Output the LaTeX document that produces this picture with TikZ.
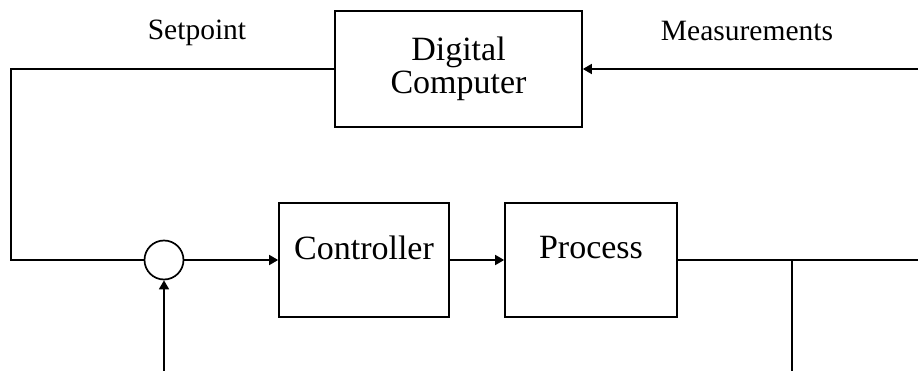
\documentclass[tikz,border=0pt]{standalone}
\usepackage{fontspec}
\setmainfont{Liberation Serif}
\usetikzlibrary{arrows.meta}
\begin{document}
\begin{tikzpicture}[x=1pt,y=-1pt,
  line width=1.7pt,
  blockbox/.style={draw,line width=1.7pt,inner sep=0pt,font=\fontsize{34}{33}\selectfont,align=center},
  sig/.style={font=\fontsize{29.5}{30}\selectfont,anchor=base,inner sep=0pt},
  arr/.style={-{Triangle[length=9pt,width=10pt]}}]
\useasboundingbox (0,0) rectangle (918,371);
\fill[white] (0,0) rectangle (918,371);
\node[blockbox,minimum width=247pt,minimum height=116pt] (dc) at (458.5,69) {Digital\\Computer};
\node[blockbox,minimum width=170pt,minimum height=114pt,text height=24pt,text depth=24pt] (ctrl) at (364,260) {Controller};
\node[blockbox,minimum width=172pt,minimum height=114pt,text height=23pt,text depth=25pt] (proc) at (591,260) {Process};
\node[draw,circle,minimum size=39pt,inner sep=0pt,line width=1.7pt] (sum) at (164,260) {};
\node[sig] (sp) at (197,40) {Setpoint};
\node[sig] (ms) at (747,41) {Measurements};
\coordinate (tl) at (11,69);
\coordinate (bl) at (11,260);
\coordinate (mr) at (918,69);
\coordinate (orr) at (918,260);
\coordinate (br) at (792,260);
\coordinate (brb) at (792,371);
\coordinate (fb) at (164,371);
\draw (dc.west) -- (tl) -- (bl) -- (sum.west);
\draw[arr] (mr) -- (dc.east);
\draw[arr] (sum.east) -- (ctrl.west);
\draw[arr] (ctrl.east) -- (proc.west);
\draw (proc.east) -- (orr);
\draw (br) -- (brb);
\draw[arr] (fb) -- (sum.south);
\end{tikzpicture}
\end{document}
